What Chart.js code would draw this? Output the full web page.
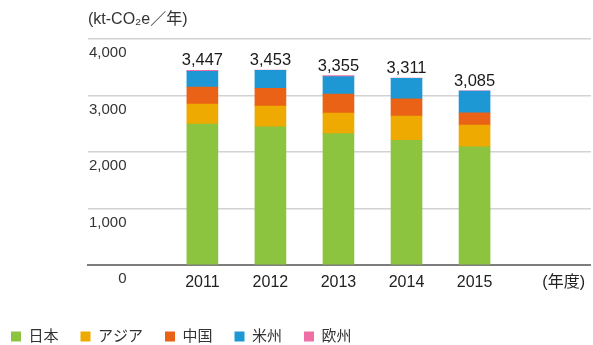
<!DOCTYPE html>
<html lang="ja">
<head>
<meta charset="utf-8">
<script src="https://cdn.jsdelivr.net/npm/chart.js@4.4.1/dist/chart.umd.min.js"></script>
<style>
  html, body { margin: 0; padding: 0; background: #fff; overflow: hidden; }
  canvas { display: block; }
</style>
</head>
<body>
<canvas id="chart" width="593" height="345"></canvas>
<script>
// Fiscal years and emissions by region (kt-CO2e per year)
const years = [2011, 2012, 2013, 2014, 2015];
const seriesNames = ['日本', 'アジア', '中国', '米州', '欧州'];
const japan    = [2497, 2449, 2326, 2210, 2092];
const asia     = [352, 365, 365, 428, 387];
const china    = [305, 317, 335, 305, 217];
const americas = [276, 317, 311, 365, 387];
const europe   = [17, 5, 18, 3, 2];
const yTickValues = [0, 1000, 2000, 3000, 4000];
const unitLabel = '(kt-CO₂e／年)';
const yearUnitLabel = '(年度)';

const seriesValues = [japan, asia, china, americas, europe];
const seriesColors = ['#8cc43f', '#eeaa00', '#e96216', '#1e98d5', '#ee6fa6'];

const FONT = "'Liberation Sans', 'Noto Sans CJK JP', sans-serif";
const YEAR_UNIT_POS = 2016.31;   // where the fiscal-year unit sits on the x scale

const fmt = v => v.toLocaleString('en-US');

// Totals printed above each stacked column
const totalLabels = {
  id: 'totalLabels',
  afterDatasetsDraw(chart) {
    const { ctx, scales: { x, y } } = chart;
    ctx.save();
    ctx.font = `16.5px ${FONT}`;
    ctx.fillStyle = '#1a1a1a';
    ctx.textAlign = 'center';
    ctx.textBaseline = 'alphabetic';
    years.forEach((yr, i) => {
      const total = chart.data.datasets.reduce((s, ds) => s + ds.data[i].y, 0);
      ctx.fillText(fmt(total), x.getPixelForValue(yr), y.getPixelForValue(total) - 5);
    });
    ctx.restore();
  }
};

// Legend sits flush with the left edge of the page
const legendPlacement = {
  id: 'legendPlacement',
  afterLayout(chart) {
    const lg = chart.legend;
    lg.left -= 99; lg.right -= 99;
    lg.top += 2; lg.bottom += 2;
  }
};

new Chart(document.getElementById('chart'), {
  type: 'bar',
  data: {
    datasets: seriesNames.map((name, k) => ({
      label: name,
      data: years.map((yr, i) => ({ x: yr, y: seriesValues[k][i] })),
      backgroundColor: seriesColors[k],
      borderWidth: 0,
      barThickness: 31
    }))
  },
  options: {
    responsive: false,
    animation: false,
    devicePixelRatio: 1,
    layout: { padding: { left: 88, right: 0, top: 0, bottom: 0 } },
    scales: {
      x: {
        type: 'linear',
        stacked: true,
        min: 2009.319,
        max: 2016.71,
        offset: false,
        grid: { display: false, drawTicks: false },
        border: { display: true, color: '#7d7d7d', width: 2 },
        afterBuildTicks(axis) {
          axis.ticks = years.map(v => ({ value: v })).concat([{ value: YEAR_UNIT_POS }]);
        },
        afterFit(axis) { axis.height = 40; },
        ticks: {
          autoSkip: false,
          maxRotation: 0,
          padding: 8,
          color: '#222',
          font: { family: FONT, size: 16 },
          callback: v => (v === YEAR_UNIT_POS ? yearUnitLabel : String(v))
        }
      },
      y: {
        stacked: true,
        min: 0,
        max: 4000,
        afterBuildTicks(axis) {
          axis.ticks = yTickValues.map(v => ({ value: v }));
        },
        afterFit(axis) { axis.width = 0; },
        grid: {
          drawTicks: false,
          lineWidth: 1.5,
          color: ctx => (ctx.tick && ctx.tick.value === 0 ? 'rgba(0,0,0,0)' : '#d2d2d2')
        },
        border: { display: false },
        ticks: {
          mirror: true,
          crossAlign: 'far',
          padding: 1,
          labelOffset: 14,
          color: '#333',
          font: { family: FONT, size: 15 },
          callback: v => fmt(v)
        }
      }
    },
    plugins: {
      title: {
        display: true,
        text: unitLabel,
        align: 'start',
        color: '#333',
        font: { family: FONT, size: 16, weight: 'normal' },
        padding: { top: 10, bottom: 10 }
      },
      legend: {
        position: 'bottom',
        align: 'start',
        maxHeight: 40,
        labels: {
          boxWidth: 10,
          boxHeight: 10,
          padding: 22,
          color: '#333',
          font: { family: FONT, size: 15 }
        }
      },
      tooltip: { enabled: false }
    }
  },
  plugins: [totalLabels, legendPlacement]
});
</script>
</body>
</html>
